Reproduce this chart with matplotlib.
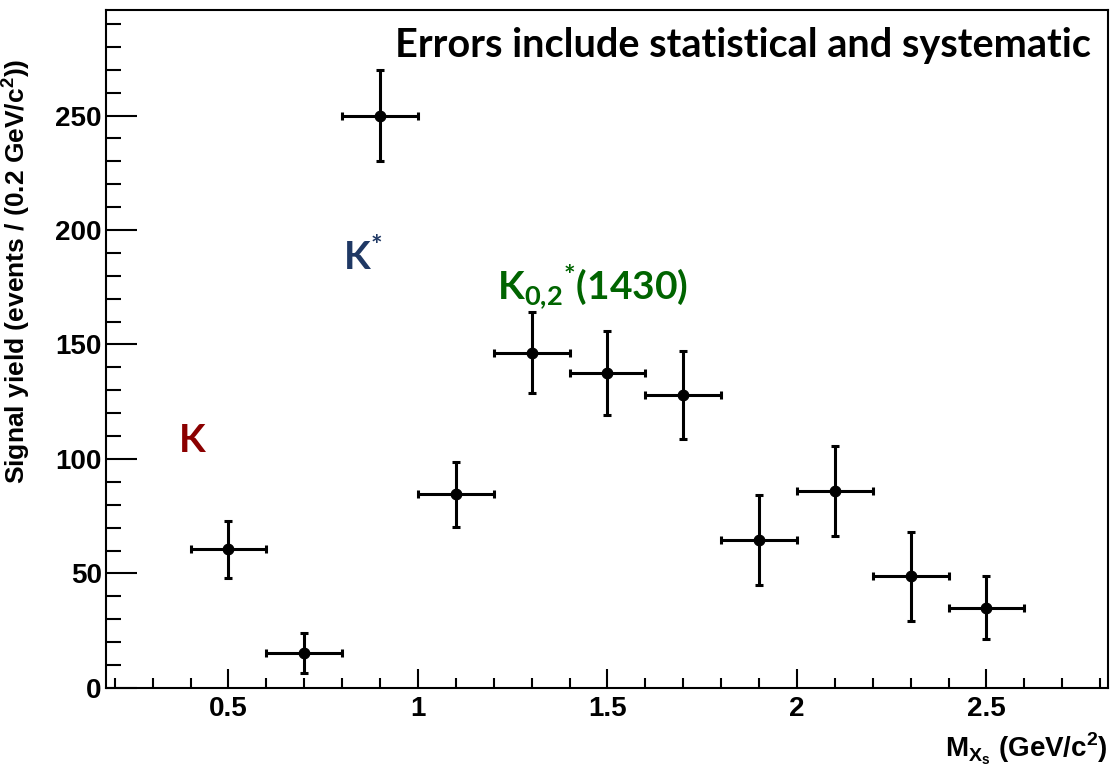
import matplotlib.pyplot as plt
from matplotlib.ticker import MultipleLocator

# bin centres, yields and total errors
mass = [0.5, 0.7, 0.9, 1.1, 1.3, 1.5, 1.7, 1.9, 2.1, 2.3, 2.5]
yields = [60.5, 15.3, 250, 84.5, 146.5, 137.4, 128, 64.6, 86, 48.8, 35]
yerr = [12.5, 8.7, 20, 14, 17.5, 18.4, 19.3, 19.6, 19.5, 19.4, 13.7]
xerr = [0.1] * len(mass)

plt.rcParams["font.family"] = ["Liberation Sans", "DejaVu Sans"]
plt.rcParams["font.weight"] = "bold"

fig = plt.figure(figsize=(11.1, 7.65), dpi=100)
ax = fig.add_axes([0.0955, 0.1007, 0.9025, 0.886])

ax.errorbar(mass, yields, xerr=xerr, yerr=yerr, fmt="o", color="k",
            ms=7.5, elinewidth=2.2, capsize=3, capthick=2.2)

ax.set_xlim(0.177, 2.82)
ax.set_ylim(0, 296)

ax.xaxis.set_minor_locator(MultipleLocator(0.1))
ax.yaxis.set_major_locator(MultipleLocator(50))
ax.yaxis.set_minor_locator(MultipleLocator(10))
ax.set_xticks([0.5, 1, 1.5, 2, 2.5])
ax.set_xticklabels(["0.5", "1", "1.5", "2", "2.5"])

ax.tick_params(which="both", direction="in", width=1.5, labelsize=20,
               top=False, right=False)
ax.tick_params(axis="x", which="major", length=14, pad=6)
ax.tick_params(axis="x", which="minor", length=7)
ax.tick_params(axis="y", which="major", length=22, pad=3)
ax.tick_params(axis="y", which="minor", length=11)
for s in ax.spines.values():
    s.set_linewidth(1.5)

ax.set_ylabel(r"Signal yield (events / (0.2 GeV/c$^\mathregular{2}$))",
              fontsize=19, fontweight="bold")
ax.yaxis.set_label_coords(-0.074, 0.615)
ax.set_xlabel(r"M$_{\mathregular{X}_\mathregular{s}}$ (GeV/c$^\mathregular{2}$)",
              fontsize=20, fontweight="bold")
ax.xaxis.set_label_coords(1.0, -0.062)
ax.xaxis.label.set_horizontalalignment("right")

ann = ["Lato", "DejaVu Sans"]
ax.text(0.983, 0.948, "Errors include statistical and systematic",
        transform=ax.transAxes, ha="right", va="center", fontsize=28.5,
        fontweight="bold", family=ann)
ax.text(0.404, 108, "K", color="#8b0000", fontsize=28, fontweight="bold",
        family=ann, ha="center", va="center")
ax.text(0.802, 183, r"K$^\mathregular{*}$", color="#1f3864", fontsize=28,
        fontweight="bold", family=ann, ha="left", va="baseline")
ax.text(1.208, 170, r"K$_\mathregular{0{,}2}$$^\mathregular{*}$(1430)",
        color="#006400", fontsize=28, fontweight="bold", family=ann,
        ha="left", va="baseline")

fig.savefig("out.png", dpi=100)
